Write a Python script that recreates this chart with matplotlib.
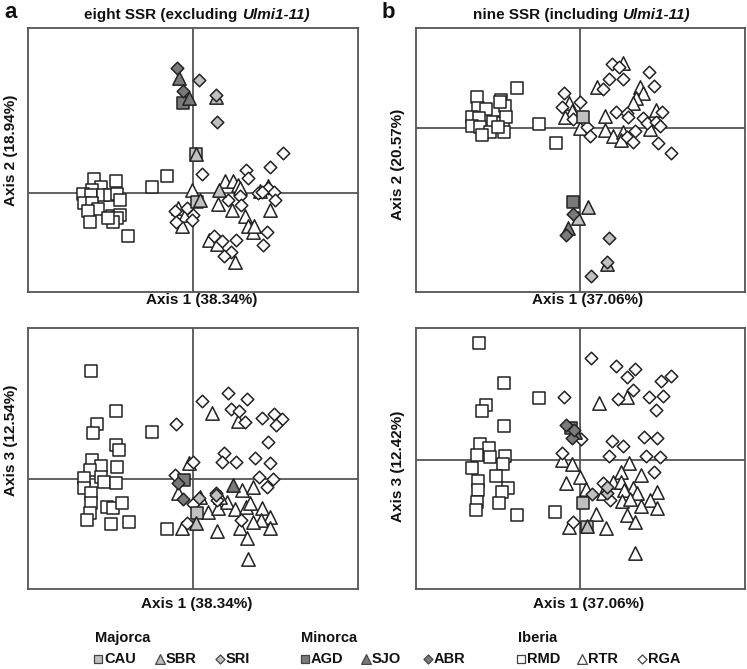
import matplotlib
matplotlib.use("Agg")
import matplotlib.pyplot as plt
import numpy as np

plt.rcParams['font.family'] = ['Liberation Sans', 'DejaVu Sans']

# ---------------- data (scores, arbitrary units) ----------------
# Panel a, Axis1 vs Axis2
a12_RMD = [(-296,42),(-231,36),(-274,18),(-301,8),(-328,-3),(-304,-5),(-269,-7),(-248,-7),(-228,-3),
           (-218,-22),(-325,-30),(-303,-30),(-283,-48),(-313,-53),(-308,-88),(-241,-70),(-218,-65),
           (-228,-75),(-238,-88),(-193,-128),(-123,17),(-76,50),(-253,-75)]
a12_RTR = [(-1,10),(-43,-45),(-31,-100),(-23,-65),(97,35),(122,35),(137,23),(77,-32),(119,-52),(157,-68),
           (167,-98),(182,-118),(184,-100),(232,-50),(50,-140),(74,-152),(127,-208),(202,5),(142,15),(227,20)]
a12_RGA = [(-53,-55),(-18,-45),(2,-65),(-51,-88),(-3,-80),(29,57),(159,70),(165,45),(232,77),(272,122),
           (107,-22),(142,-10),(145,-37),(197,0),(227,15),(244,2),(247,-22),(209,2),(224,-117),(212,-155),
           (130,-140),(87,-145),(64,-128),(114,-178),(95,-190)]
a12_CAU = [(12,-27),(9,117)]
a12_SBR = [(9,117),(22,-20),(79,8),(69,290)]
a12_SRI = [(19,339),(69,295),(74,215)]
a12_AGD = [(-28,270)]
a12_SJO = [(-42,347),(-10,285)]
a12_ABR = [(-46,375),(-28,307)]

# Panel b, Axis1 vs Axis2
b12_RMD = [(-308,91),(-238,83),(-225,65),(-190,120),(-307,58),(-282,56),(-325,33),(-303,28),(-262,18),
           (-230,15),(-222,31),(-325,5),(-300,3),(-270,-12),(-295,-22),(-228,-12),(-245,1),(-122,10),
           (-73,-47),(-240,78)]
b12_RTR = [(128,195),(52,123),(180,121),(190,105),(168,88),(160,75),(-33,75),(-25,51),(-45,33),(0,-2),
           (76,35),(228,53),(76,-7),(100,-24),(130,-12),(122,-37),(210,-5)]
b12_RGA = [(97,191),(118,183),(88,145),(130,145),(208,166),(223,125),(68,115),(-48,105),(-55,63),(0,76),
           (-20,26),(20,3),(30,-25),(108,48),(140,43),(145,31),(245,48),(165,-9),(190,28),(200,13),
           (228,16),(240,5),(235,-45),(273,-77),(140,-27),(160,-42)]
b12_CAU = [(10,33)]
b12_SBR = [(23,-237),(82,-409),(-5,-272)]
b12_SRI = [(86,-332),(82,-402),(34,-445)]
b12_AGD = [(-22,-222)]
b12_SJO = [(-35,-302)]
b12_ABR = [(-22,-259),(-42,-322)]

# Panel a, Axis1 vs Axis3
a13_RMD = [(-305,325),(-230,206),(-286,165),(-298,140),(-123,143),(-230,103),(-220,88),(-301,58),
           (-275,41),(-226,38),(-308,28),(-326,3),(-275,8),(-266,-7),(-230,-10),(-326,-27),(-305,-42),
           (-305,-70),(-256,-82),(-238,-85),(-213,-70),(-308,-102),(-316,-122),(-246,-134),(-191,-127),
           (-76,-150)]
a13_RTR = [(59,198),(137,176),(-10,50),(147,-32),(182,-22),(-43,-42),(47,-97),(77,-87),(102,-67),
           (127,-89),(160,-82),(172,-72),(210,-87),(232,-112),(207,-122),(182,-127),(142,-147),
           (232,-147),(164,-177),(74,-155),(-31,-147),(167,-240),(22,-52),(82,-52)]
a13_RGA = [(29,235),(107,258),(164,241),(114,211),(139,206),(158,173),(210,185),(244,195),(270,182),
           (250,164),(-51,165),(227,113),(95,78),(89,53),(130,53),(189,65),(232,50),(200,8),(242,0),
           (224,-22),(2,53),(-53,13),(69,-40),(72,-62),(144,-122),(-18,-132),(2,-74)]
a13_CAU = [(12,-100)]
a13_SBR = [(10,-132)]
a13_SRI = [(19,-57),(70,-47)]
a13_AGD = [(-25,-2)]
a13_SJO = [(122,-17)]
a13_ABR = [(-45,-12),(-28,-60)]

# Panel b, Axis1 vs Axis3
b13_RMD = [(-302,350),(-228,232),(-282,165),(-295,148),(-228,103),(-122,187),(-300,48),(-273,35),
           (-310,15),(-270,8),(-225,12),(-230,-13),(-325,-25),(-252,-48),(-305,-62),(-305,-90),
           (-215,-85),(-235,-95),(-310,-125),(-242,-130),(-313,-150),(-190,-165),(-75,-157)]
b13_RTR = [(58,172),(140,188),(-55,0),(-25,-13),(148,-8),(122,-35),(183,-45),(0,-50),(-42,-70),
           (18,-88),(100,-67),(122,-65),(160,-85),(133,-90),(170,-100),(230,-95),(127,-122),(150,-118),
           (210,-120),(183,-137),(230,-145),(47,-163),(140,-165),(165,-185),(77,-205),(-32,-200),
           (165,-280),(68,-100)]
b13_RGA = [(32,307),(108,283),(165,273),(140,248),(243,238),(273,253),(160,210),(115,183),(208,188),
           (248,193),(228,150),(-47,190),(97,58),(130,43),(192,70),(232,67),(88,13),(197,12),(240,10),
           (-55,20),(3,62),(223,-35),(68,-70),(-20,-185),(90,-120)]
b13_CAU = [(8,-128),(22,-200)]
b13_SBR = [(22,-198)]
b13_SRI = [(80,-100),(80,-80),(35,-102)]
b13_AGD = [(-28,95)]
b13_SJO = [(-15,85)]
b13_ABR = [(-42,105),(-23,65),(-18,90)]

groups = ["RMD", "RTR", "RGA", "CAU", "SBR", "SRI", "AGD", "SJO", "ABR"]
panels = {
    "a12": dict(RMD=a12_RMD, RTR=a12_RTR, RGA=a12_RGA, CAU=a12_CAU, SBR=a12_SBR, SRI=a12_SRI,
                AGD=a12_AGD, SJO=a12_SJO, ABR=a12_ABR),
    "b12": dict(RMD=b12_RMD, RTR=b12_RTR, RGA=b12_RGA, CAU=b12_CAU, SBR=b12_SBR, SRI=b12_SRI,
                AGD=b12_AGD, SJO=b12_SJO, ABR=b12_ABR),
    "a13": dict(RMD=a13_RMD, RTR=a13_RTR, RGA=a13_RGA, CAU=a13_CAU, SBR=a13_SBR, SRI=a13_SRI,
                AGD=a13_AGD, SJO=a13_SJO, ABR=a13_ABR),
    "b13": dict(RMD=b13_RMD, RTR=b13_RTR, RGA=b13_RGA, CAU=b13_CAU, SBR=b13_SBR, SRI=b13_SRI,
                AGD=b13_AGD, SJO=b13_SJO, ABR=b13_ABR),
}

# ---------------- styles ----------------
WHITE, LIGHT, DARK = "#ffffff", "#c0c0c0", "#7a7a7a"
EDGE = "#222222"
style = {
    "CAU": ("s", LIGHT), "SBR": ("^", LIGHT), "SRI": ("D", LIGHT),
    "AGD": ("s", DARK), "SJO": ("^", DARK), "ABR": ("D", DARK),
    "RMD": ("s", WHITE), "RTR": ("^", WHITE), "RGA": ("D", WHITE),
}
msize = {"s": 8.6, "^": 9.6, "D": 6.4}

W, H = 747, 669
fig = plt.figure(figsize=(W / 100, H / 100), dpi=100)

def fx(px):
    return px / W

def fy(py):
    return 1 - py / H

ax_boxes = {
    "a12": (27.5, 28, 358, 292),
    "b12": (416, 28, 745, 292),
    "a13": (27.5, 328, 358, 589),
    "b13": (416, 328, 745, 589),
}
limits = {
    "a12": ((-496, 497), (-297, 496)),
    "b12": ((-492, 495), (-493, 299)),
    "a13": ((-496, 497), (-329, 454)),
    "b13": ((-492, 495), (-387, 396)),
}

LINE = "#555555"
for key, (l, t, r, b) in ax_boxes.items():
    ax = fig.add_axes([fx(l), fy(b), (r - l) / W, (b - t) / H])
    ax.set_xlim(*limits[key][0])
    ax.set_ylim(*limits[key][1])
    ax.set_xticks([]); ax.set_yticks([])
    for sp in ax.spines.values():
        sp.set_color(LINE); sp.set_linewidth(1.3)
    ax.axhline(0, color=LINE, lw=1.3, zorder=1)
    ax.axvline(0, color=LINE, lw=1.3, zorder=1)
    for g in groups:
        pts = np.array(panels[key][g], dtype=float)
        m, c = style[g]
        ax.scatter(pts[:, 0], pts[:, 1], marker=m, s=msize[m] ** 2, facecolor=c,
                   edgecolor=EDGE, linewidth=1.1, zorder=3)

BOLD = dict(fontweight="bold", color="#111111")

# axis labels
fig.text(fx(202), fy(300), "Axis 1 (38.34%)", ha="center", va="center", fontsize=11, **BOLD)
fig.text(fx(588), fy(300), "Axis 1 (37.06%)", ha="center", va="center", fontsize=11, **BOLD)
fig.text(fx(197), fy(604), "Axis 1 (38.34%)", ha="center", va="center", fontsize=11, **BOLD)
fig.text(fx(589), fy(604), "Axis 1 (37.06%)", ha="center", va="center", fontsize=11, **BOLD)
fig.text(fx(11), fy(150), "Axis 2 (18.94%)", ha="center", va="center", rotation=90, fontsize=11, **BOLD)
fig.text(fx(11), fy(440), "Axis 3 (12.54%)", ha="center", va="center", rotation=90, fontsize=11, **BOLD)
fig.text(fx(398), fy(164), "Axis 2 (20.57%)", ha="center", va="center", rotation=90, fontsize=11, **BOLD)
fig.text(fx(398), fy(466), "Axis 3 (12.42%)", ha="center", va="center", rotation=90, fontsize=11, **BOLD)

# panel letters
fig.text(fx(4), fy(13), "a", ha="left", va="center", fontsize=16, **BOLD)
fig.text(fx(382), fy(13), "b", ha="left", va="center", fontsize=16, **BOLD)

# titles with italic part
def title(center_px, y_px, normal, italic):
    t1 = fig.text(0, fy(y_px), normal, ha="left", va="center", fontsize=11, **BOLD)
    t2 = fig.text(0, fy(y_px), italic, ha="left", va="center", fontsize=11, style="italic", **BOLD)
    fig.canvas.draw()
    r = fig.canvas.get_renderer()
    w1 = t1.get_window_extent(r).width
    w2 = t2.get_window_extent(r).width
    x0 = center_px - (w1 + w2) / 2
    t1.set_x(fx(x0))
    t2.set_x(fx(x0 + w1))

title(197, 15, "eight SSR (excluding ", "Ulmi1-11)")
title(581, 15, "nine SSR (including ", "Ulmi1-11)")

# legend
leg = fig.add_axes([0, 0, 1, 1], zorder=-1)
leg.set_xlim(0, W); leg.set_ylim(H, 0); leg.axis("off")
headers = [("Majorca", 95), ("Minorca", 301), ("Iberia", 518)]
for txt, x in headers:
    fig.text(fx(x), fy(638), txt, ha="left", va="center", fontsize=10.5, **BOLD)
entries = [("CAU", 98), ("SBR", 160), ("SRI", 220),
           ("AGD", 305), ("SJO", 366), ("ABR", 428),
           ("RMD", 521), ("RTR", 582), ("RGA", 642)]
lsize = {"s": 6.0, "^": 7.0, "D": 4.6}
for name, x in entries:
    m, c = style[name]
    leg.scatter([x], [659], marker=m, s=lsize[m] ** 2, facecolor=c, edgecolor="#444444", linewidth=0.9)
    fig.text(fx(x + 6), fy(659), name, ha="left", va="center", fontsize=10.5, **BOLD)

fig.savefig("out.png", dpi=100)
